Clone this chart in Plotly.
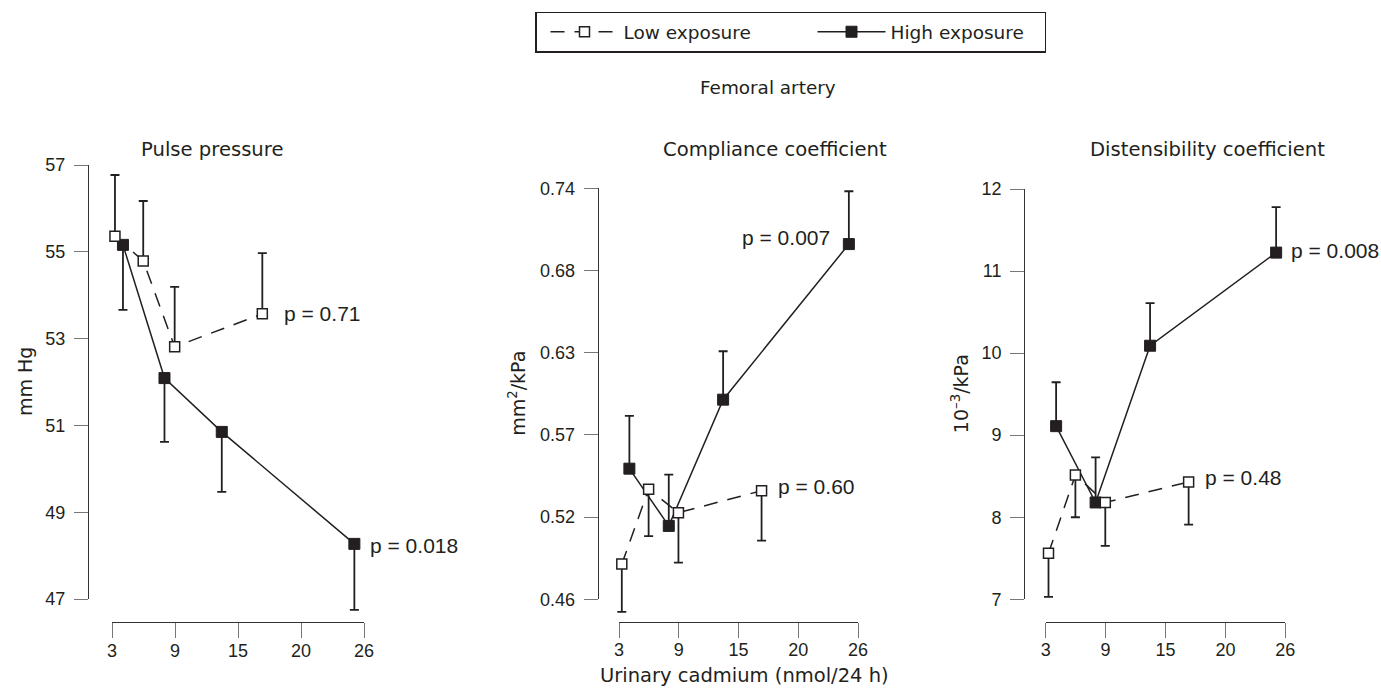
import numpy as np
import plotly.graph_objects as go

W, H = 1381, 688
INK = "#231f20"
AXC = "#333333"
TKC = "#777777"

# ---------------- data ----------------
x_tick_labels = ["3", "9", "15", "20", "26"]
low_x = [3.27, 5.85, 8.72, 16.72]
high_x = [4.0, 7.79, 13.02, 25.12]

pp_low = [55.36, 54.79, 52.81, 53.57]
pp_low_err = [1.41, 1.38, 1.38, 1.40]
pp_high = [55.16, 52.09, 50.85, 48.27]
pp_high_err = [1.50, 1.47, 1.38, 1.52]
pp_ticks = ["47", "49", "51", "53", "55", "57"]

cc_low = [0.484, 0.535, 0.519, 0.534]
cc_low_err = [0.0325, 0.032, 0.034, 0.034]
cc_high = [0.549, 0.510, 0.596, 0.702]
cc_high_err = [0.036, 0.035, 0.033, 0.036]
cc_ticks = ["0.46", "0.52", "0.57", "0.63", "0.68", "0.74"]

dc_low = [7.56, 8.515, 8.18, 8.43]
dc_low_err = [0.53, 0.515, 0.53, 0.52]
dc_high = [9.11, 8.18, 10.09, 11.225]
dc_high_err = [0.535, 0.55, 0.52, 0.555]
dc_ticks = ["7", "8", "9", "10", "11", "12"]

titles = ["Pulse pressure", "Compliance coefficient", "Distensibility coefficient"]
ytitles = ["mm Hg", "mm<sup>2</sup>/kPa", "10<sup>\u20133</sup>/kPa"]
p_low = ["p = 0.71", "p = 0.60", "p = 0.48"]
p_high = ["p = 0.018", "p = 0.007", "p = 0.008"]

# ---------------- layout geometry (pixels) ----------------
panels = [
    dict(low=pp_low, low_err=pp_low_err, high=pp_high, high_err=pp_high_err,
         ytl=pp_ticks, yr=(47, 57), low_up=True,
         yline_x=88, y_top=165, y_bot=599, xline_y=622, x_l=112, x_r=364,
         title_x=212, ytitle_x=25,
         plow=dict(xanchor="left", xshift=20, yshift=0),
         phigh=dict(xanchor="left", xshift=14, yshift=-2)),
    dict(low=cc_low, low_err=cc_low_err, high=cc_high, high_err=cc_high_err,
         ytl=cc_ticks, yr=(0.46, 0.74), low_up=False,
         yline_x=597.7, y_top=188.3, y_bot=599.3, xline_y=621.7, x_l=619, x_r=858,
         title_x=775, ytitle_x=517,
         plow=dict(xanchor="left", xshift=14, yshift=4),
         phigh=dict(xanchor="right", xshift=-17, yshift=7)),
    dict(low=dc_low, low_err=dc_low_err, high=dc_high, high_err=dc_high_err,
         ytl=dc_ticks, yr=(7, 12), low_up=False,
         yline_x=1024.3, y_top=189, y_bot=599.3, xline_y=621.7, x_l=1045.7, x_r=1285.3,
         title_x=1207, ytitle_x=960,
         plow=dict(xanchor="left", xshift=14, yshift=4),
         phigh=dict(xanchor="left", xshift=13, yshift=2)),
]


def fx(px):
    return px / W


def fy(py):
    return 1 - py / H


def lin_range(v0, p0, v1, p1, d0, d1):
    s = (v1 - v0) / (p1 - p0)
    return [v0 + (d0 - p0) * s, v0 + (d1 - p0) * s]


fig = go.Figure()
layout = {}
annotations = []
xt_vals = list(np.linspace(3, 26, len(x_tick_labels)))

for i, p in enumerate(panels):
    n = i + 1
    xa, ya = f"x{n}", f"y{n}"
    zero = [0] * 4
    # high exposure first (drawn underneath low markers)
    fig.add_trace(go.Scatter(
        x=high_x, y=p["high"], mode="lines+markers", name="High exposure",
        legendrank=2, legendwidth=149, showlegend=(i == 0), xaxis=xa, yaxis=ya,
        cliponaxis=False,
        line=dict(color=INK, width=1.5),
        marker=dict(symbol="square", size=11, color=INK, line=dict(color=INK, width=1)),
        error_y=dict(type="data", symmetric=False,
                     array=(zero if p["low_up"] else p["high_err"]),
                     arrayminus=(p["high_err"] if p["low_up"] else zero),
                     color=INK, thickness=1.8, width=4.5),
        hoverinfo="skip"))
    fig.add_trace(go.Scatter(
        x=low_x, y=p["low"], mode="lines+markers", name="Low exposure",
        legendrank=1, legendwidth=175, showlegend=(i == 0), xaxis=xa, yaxis=ya,
        cliponaxis=False,
        line=dict(color=INK, width=1.5, dash="14px,10px"),
        marker=dict(symbol="square", size=10, color="white", line=dict(color=INK, width=1.5)),
        error_y=dict(type="data", symmetric=False,
                     array=(p["low_err"] if p["low_up"] else zero),
                     arrayminus=(zero if p["low_up"] else p["low_err"]),
                     color=INK, thickness=1.8, width=4.5),
        hoverinfo="skip"))

    # data axes (invisible, wider domain, same scale as display axes)
    dx0, dx1 = p["x_l"] - 40, p["x_r"] + 40
    dy_top, dy_bot = p["y_top"] - 30, p["y_bot"] + 40
    layout[f"xaxis{n}"] = dict(
        domain=[fx(dx0), fx(dx1)], anchor=ya, visible=False,
        range=lin_range(3, p["x_l"], 26, p["x_r"], dx0, dx1))
    layout[f"yaxis{n}"] = dict(
        domain=[fy(dy_bot), fy(dy_top)], anchor=xa, visible=False,
        range=lin_range(p["yr"][0], p["y_bot"], p["yr"][1], p["y_top"], dy_bot, dy_top))

    # display axes
    m = n + 3
    fig.add_trace(go.Scatter(x=[None], y=[None], xaxis=f"x{m}", yaxis=f"y{m}",
                             showlegend=False, hoverinfo="skip"))
    layout[f"xaxis{m}"] = dict(
        domain=[fx(p["x_l"]), fx(p["x_r"])], range=[3, 26], anchor="free",
        position=fy(p["xline_y"]), tickmode="array", tickvals=xt_vals,
        ticktext=x_tick_labels, ticks="outside", ticklen=15, tickwidth=1.2,
        tickcolor=TKC, showline=True, linecolor=AXC, linewidth=1.3,
        showgrid=False, zeroline=False, ticklabelstandoff=-3,
        tickfont=dict(family="Liberation Sans", size=18, color=INK))
    yt_vals = list(np.linspace(p["yr"][0], p["yr"][1], len(p["ytl"])))
    layout[f"yaxis{m}"] = dict(
        domain=[fy(p["y_bot"]), fy(p["y_top"])], range=list(p["yr"]), anchor="free",
        position=fx(p["yline_x"]), tickmode="array", tickvals=yt_vals,
        ticktext=p["ytl"], ticks="outside", ticklen=14, tickwidth=1.2,
        tickcolor=TKC, showline=True, linecolor=AXC, linewidth=1.3,
        showgrid=False, zeroline=False, ticklabelstandoff=5,
        tickfont=dict(family="Liberation Sans", size=18, color=INK))

    # panel title
    annotations.append(dict(text=titles[i], xref="paper", yref="paper",
                            x=fx(p["title_x"]), y=fy(149), showarrow=False,
                            xanchor="center", yanchor="middle",
                            font=dict(family="DejaVu Sans", size=19.6, color=INK)))
    # y title
    annotations.append(dict(text=ytitles[i], xref="paper", yref="paper",
                            x=fx(p["ytitle_x"]), y=fy((p["y_top"] + p["y_bot"]) / 2),
                            textangle=-90, showarrow=False,
                            xanchor="center", yanchor="middle",
                            font=dict(family="DejaVu Sans", size=19, color=INK)))
    # p-values
    annotations.append(dict(text=p_low[i], xref=xa, yref=ya, x=low_x[3], y=p["low"][3],
                            showarrow=False, yanchor="middle",
                            font=dict(family="Liberation Sans", size=21, color=INK),
                            **p["plow"]))
    annotations.append(dict(text=p_high[i], xref=xa, yref=ya, x=high_x[3], y=p["high"][3],
                            showarrow=False, yanchor="middle",
                            font=dict(family="Liberation Sans", size=21, color=INK),
                            **p["phigh"]))

annotations.append(dict(text="Femoral artery", xref="paper", yref="paper",
                        x=fx(768), y=fy(87), showarrow=False,
                        xanchor="center", yanchor="middle",
                        font=dict(family="DejaVu Sans", size=18.4, color=INK)))
annotations.append(dict(text="Urinary cadmium (nmol/24 h)", xref="paper", yref="paper",
                        x=fx(744), y=fy(675), showarrow=False,
                        xanchor="center", yanchor="middle",
                        font=dict(family="DejaVu Sans", size=19.5, color=INK)))

fig.update_layout(
    width=W, height=H, margin=dict(l=0, r=0, t=0, b=0, pad=0, autoexpand=False),
    paper_bgcolor="white", plot_bgcolor="rgba(0,0,0,0)",
    annotations=annotations,
    legend=dict(orientation="h", x=fx(535), y=fy(11.7), xanchor="left", yanchor="top",
                bordercolor=INK, borderwidth=1.5, bgcolor="white",
                itemwidth=68, indentation=9,
                font=dict(family="DejaVu Sans", size=18.5, color=INK)),
    **layout)

fig.write_html(
    "out.html",
    config={"displayModeBar": False},
    post_script="document.body.style.margin='0px';"
                "document.documentElement.style.overflow='hidden';")
